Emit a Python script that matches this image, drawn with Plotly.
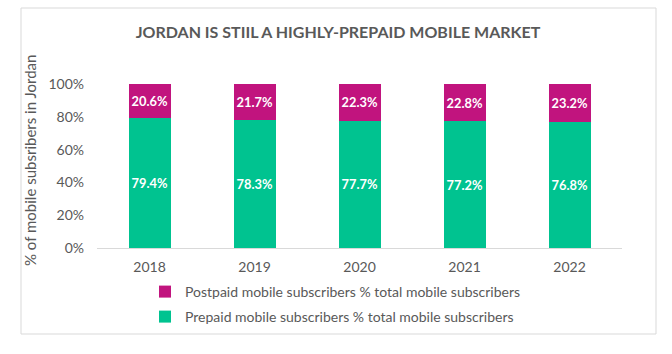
import plotly.graph_objects as go

years = ["2018", "2019", "2020", "2021", "2022"]
prepaid = [79.4, 78.3, 77.7, 77.2, 76.8]
postpaid = [20.6, 21.7, 22.3, 22.8, 23.2]
tick_vals = [0, 20, 40, 60, 80, 100]
tick_text = ["0%", "20%", "40%", "60%", "80%", "100%"]

FONT = "Lato"
GREY = "#595959"
GREEN = "#00C390"
MAGENTA = "#C1147E"

W, H = 672, 354
L, R, T, B = 97, 50, 84, 106
pw, ph = W - L - R, H - T - B

def px(x):
    return (x - L) / pw

def py(y):
    return (H - B - y) / ph

fig = go.Figure()
fig.add_trace(go.Bar(
    x=years, y=prepaid, name="Prepaid mobile subscribers % total mobile subscribers",
    marker=dict(color=GREEN, line=dict(width=0)),
    texttemplate="%{y:.1f}%", textposition="inside", insidetextanchor="middle",
    textangle=0,
    textfont=dict(color="white", size=14, family=FONT, weight="bold"),
    legend="legend2",
))
fig.add_trace(go.Bar(
    x=years, y=postpaid, name="Postpaid mobile subscribers % total mobile subscribers",
    marker=dict(color=MAGENTA, line=dict(width=0)),
    texttemplate="%{y:.1f}%", textposition="inside", insidetextanchor="middle",
    textangle=0,
    textfont=dict(color="white", size=14, family=FONT, weight="bold"),
    legend="legend",
))

legend_common = dict(
    xanchor="left", yanchor="middle", bgcolor="rgba(0,0,0,0)",
    font=dict(size=14, family=FONT, color=GREY), itemwidth=30,
)

fig.update_layout(
    width=W, height=H,
    margin=dict(l=L, r=R, t=T, b=B),
    barmode="stack", bargap=0.6,
    paper_bgcolor="white", plot_bgcolor="white",
    font=dict(family=FONT, color=GREY, size=13),
    uniformtext=dict(mode=False),
    title=dict(text="<b>JORDAN IS STIIL A HIGHLY-PREPAID MOBILE MARKET</b>",
               x=px(338), xref="paper", xanchor="center",
               y=1 - 32 / H, yanchor="middle",
               font=dict(size=16, family=FONT, color=GREY)),
    xaxis=dict(showgrid=False, showline=True, linecolor="#D9D9D9", linewidth=1,
               ticks="", tickfont=dict(size=14, color=GREY), ticklabelstandoff=6),
    yaxis=dict(range=[0, 100], tickmode="array", tickvals=tick_vals, ticktext=tick_text,
               showgrid=False, showline=False, zeroline=False, ticks="",
               tickfont=dict(size=14, color=GREY), ticklabelstandoff=12),
    legend=dict(x=px(145), y=py(292), **legend_common),
    legend2=dict(x=px(145), y=py(317), **legend_common),
    showlegend=True,
    annotations=[dict(text="% of mobile subsribers in Jordan", textangle=-90,
                      x=px(30), y=py(161), xref="paper", yref="paper",
                      xanchor="center", yanchor="middle", showarrow=False,
                      font=dict(size=15, family=FONT, color=GREY))],
    shapes=[dict(type="rect", xref="paper", yref="paper",
                 x0=px(21), x1=px(656), y0=py(334), y1=py(8),
                 line=dict(color="#D9D9D9", width=1), fillcolor="rgba(0,0,0,0)", layer="below")],
)

fig.write_html("out.html")
